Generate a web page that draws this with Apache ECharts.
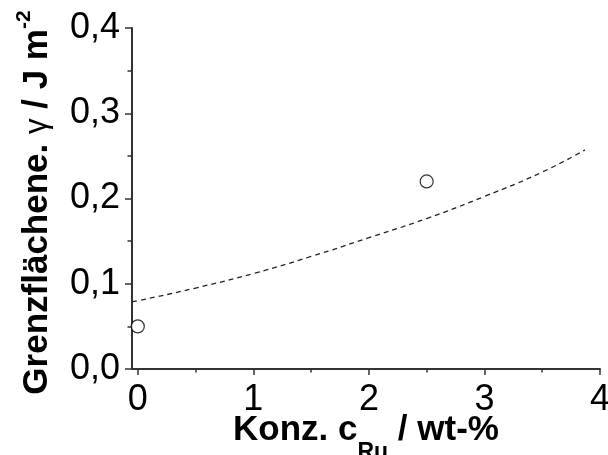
<!DOCTYPE html>
<html>
<head>
<meta charset="utf-8">
<script src="https://cdn.jsdelivr.net/npm/echarts@6/dist/echarts.min.js"></script>
<style>
  html, body { margin: 0; padding: 0; background: #fff; }
  #chart { width: 608px; height: 455px; }
</style>
</head>
<body>
<div id="chart"></div>
<script>
// Measured interfacial energy vs. Ru concentration
const measuredConc = [0, 2.5];
const measuredGamma = [0.05, 0.22];

// Fitted trend (dashed curve), read along its course
const fitConc  = [-0.05, 0,     0.5,   1.0,   1.5,   2.0,   2.5,    3.0,    3.5,   3.87];
const fitGamma = [0.079, 0.080, 0.095, 0.112, 0.132, 0.154, 0.1765, 0.2024, 0.231, 0.257];

const xMajorTicks = [0, 1, 2, 3, 4];
const xMinorTicks = [0.5, 1.5, 2.5, 3.5];

const FONT = 'Liberation Sans, Arial, sans-serif';
const AXIS_COLOR = '#333';

const chart = echarts.init(document.getElementById('chart'), null, { renderer: 'canvas' });

const fmtComma = v => v.toFixed(1).replace('.', ',');

chart.setOption({
  animation: false,
  backgroundColor: '#fff',
  grid: { left: 132, right: 8, top: 28, bottom: 86, containLabel: false, outerBoundsMode: 'none' },
  xAxis: [
    {
      type: 'value',
      min: -0.05,
      max: 4,
      axisLine: { show: true, onZero: false, lineStyle: { color: AXIS_COLOR, width: 2 } },
      axisTick: { show: true, inside: false, length: 6, customValues: xMajorTicks,
                  lineStyle: { color: AXIS_COLOR, width: 1.5 } },
      axisLabel: { show: true, customValues: xMajorTicks, margin: 13,
                   fontFamily: FONT, fontSize: 36, color: '#000',
                   formatter: v => String(v) },
      splitLine: { show: false },
      name: '{b|Konz. c}{sub|Ru}{b| / wt-%}',
      nameLocation: 'middle',
      nameGap: 28,
      nameMoveOverlap: false,
      nameTextStyle: {
        rich: {
          b:   { fontFamily: FONT, fontSize: 35, fontWeight: 'bold', color: '#000', verticalAlign: 'middle' },
          sub: { fontFamily: FONT, fontSize: 23, fontWeight: 'bold', color: '#000', verticalAlign: 'middle',
                 padding: [44, 0, 0, 0] }
        }
      }
    },
    {
      // minor ticks at half units
      type: 'value',
      min: -0.05,
      max: 4,
      position: 'bottom',
      axisLine: { show: false },
      axisTick: { show: true, inside: false, length: 3.5, customValues: xMinorTicks,
                  lineStyle: { color: AXIS_COLOR, width: 1.5 } },
      axisLabel: { show: false },
      splitLine: { show: false }
    }
  ],
  yAxis: {
    type: 'value',
    min: 0,
    max: 0.4,
    interval: 0.1,
    axisLine: { show: true, onZero: false, lineStyle: { color: AXIS_COLOR, width: 2 } },
    axisTick: { show: true, inside: false, length: 7, lineStyle: { color: AXIS_COLOR, width: 1.5 } },
    minorTick: { show: true, splitNumber: 2, length: 4.5, lineStyle: { color: AXIS_COLOR, width: 1.5 } },
    axisLabel: { margin: 12, fontFamily: FONT, fontSize: 36, color: '#000', formatter: fmtComma },
    splitLine: { show: false },
    minorSplitLine: { show: false },
    name: '{b|Grenzflächene. }{g|γ}{b| / J m}{sup|-2}',
    nameLocation: 'middle',
    nameRotate: 90,
    nameGap: 72,
    nameMoveOverlap: false,
    nameTextStyle: {
      rich: {
        b:   { fontFamily: FONT, fontSize: 35, fontWeight: 'bold', color: '#000', verticalAlign: 'middle' },
        g:   { fontFamily: FONT, fontSize: 31, fontWeight: 'normal', color: '#000', verticalAlign: 'middle' },
        sup: { fontFamily: FONT, fontSize: 21, fontWeight: 'bold', color: '#000', verticalAlign: 'middle',
               padding: [0, 8, 25, 0] }
      }
    }
  },
  series: [
    {
      name: 'Fit',
      type: 'line',
      data: fitConc.map((x, i) => [x, fitGamma[i]]),
      smooth: true,
      showSymbol: false,
      symbol: 'none',
      clip: false,
      lineStyle: { color: '#222', width: 1.3, type: [5, 4] },
      z: 2
    },
    {
      name: 'Messwerte',
      type: 'scatter',
      data: measuredConc.map((x, i) => [x, measuredGamma[i]]),
      symbol: 'circle',
      symbolSize: 13,
      itemStyle: { color: '#fff', borderColor: '#000', borderWidth: 1.2 },
      z: 3
    }
  ]
});
</script>
</body>
</html>
